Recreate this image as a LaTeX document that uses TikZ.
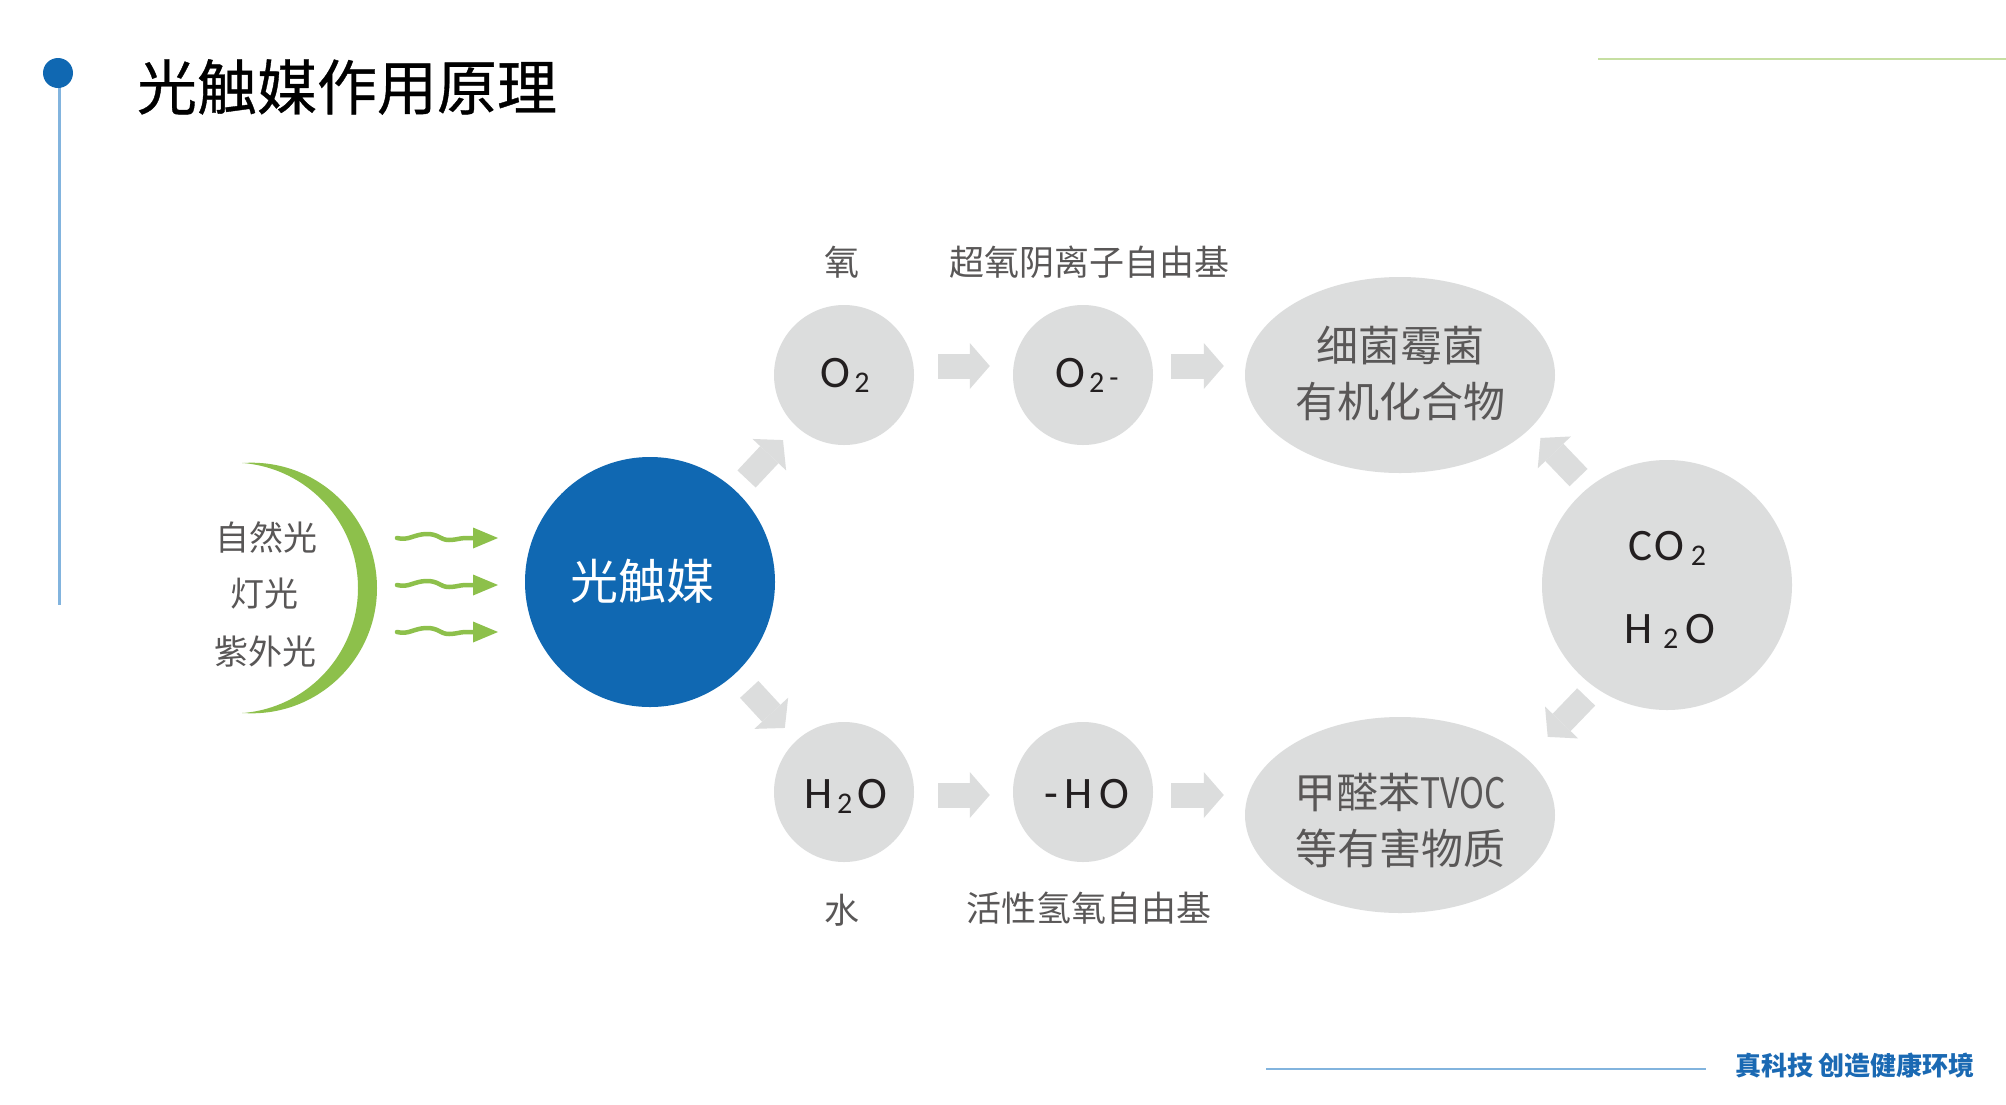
\documentclass[tikz,border=0pt]{standalone}
\usepackage{fontspec}
\usepackage{graphicx}
\setmainfont{Noto Sans CJK SC}
\newfontfamily\latinf{Carlito}
\newfontfamily\titlef{Noto Sans CJK SC}[FakeBold=0.6]
\usetikzlibrary{shapes.geometric,arrows.meta,calc}
\definecolor{cblue}{HTML}{1068B2}
\definecolor{cltblue}{HTML}{82B4DE}
\definecolor{cgreen}{HTML}{8DC04B}
\definecolor{cltgreen}{HTML}{C6DFA2}
\definecolor{cgray}{HTML}{DCDDDD}
\definecolor{cgtext}{HTML}{595757}
\definecolor{cdark}{HTML}{231F20}
\definecolor{cfoot}{HTML}{1A69B3}
\newcommand\myfs[2]{\fontsize{#1}{#2}\selectfont}
\newcommand\mysub[1]{\raisebox{-5pt}{\myfs{30}{30}#1}}
\tikzset{
  gcirc/.style={circle, fill=cgray, minimum size=140pt, inner sep=0pt},
  gell/.style={ellipse, fill=cgray, minimum width=310pt, minimum height=196pt, inner sep=0pt},
  formula/.style={anchor=base, text=cdark, inner sep=0pt, font=\latinf\myfs{45}{45}},
  lbl/.style={text=cgtext, inner sep=0pt, font=\myfs{35}{40}},
  biglbl/.style={text=cgtext, inner sep=0pt, align=center, font=\myfs{42}{56}},
  leftlbl/.style={text=cgtext, inner sep=0pt, font=\myfs{34}{40}},
  blockarr/.style={line width=25pt, draw=cgray, -{Triangle[length=20pt,width=46pt,line width=0pt]}},
  wave/.style={draw=cgreen, line width=4.5pt, line cap=round, -{Triangle[length=25pt,width=21pt,line width=0pt]}}
}
\begin{document}
\begin{tikzpicture}[x=1pt,y=-1pt]
\useasboundingbox (0,0) rectangle (2006,1104);
\fill[white] (0,0) rectangle (2006,1104);

% header decorations
\draw[cltblue, line width=2.5pt] (59.5,73) -- (59.5,605);
\fill[cblue] (58,73) circle[radius=15pt];
\draw[cltgreen, line width=2.5pt] (1598,59) -- (2006,59);
\node[inner sep=0pt, text=black, font=\titlef\myfs{60}{70}] (title) at (347,87) {光触媒作用原理};

% footer
\draw[cltblue, line width=2pt] (1266,1069) -- (1706,1069);
\node[inner sep=0pt, text=cfoot, font=\myfs{26}{30}\bfseries] (footer) at (1855,1066) {真科技 创造健康环境};

% light source crescent
\begin{scope}
  \clip (242,440) rectangle (400,740);
  \fill[cgreen, even odd rule] (251.7,588) circle[radius=125.3pt] (232.6,588) circle[radius=125.4pt];
\end{scope}
\node[leftlbl] (l1) at (266,537) {自然光};
\node[leftlbl] (l2) at (264,594) {灯光};
\node[leftlbl] (l3) at (265,652) {紫外光};

% wavy light arrows
\foreach \y/\n in {538/a,585/b,632/c} {
  \coordinate (w\n) at (397,\y);
  \draw[wave] (w\n) .. controls (409,\y+3) and (414,\y-4) .. (427,\y-4)
     .. controls (439,\y-4) and (440,\y+2) .. (449,\y+2)
     .. controls (456,\y+2) and (460,\y) .. (466,\y) -- (498,\y);
}

% photocatalyst
\node[circle, fill=cblue, minimum size=250pt, inner sep=0pt] (cat) at (650,582) {};
\node[text=white, inner sep=0pt, font=\myfs{48}{58}] (catlbl) at (642,581) {光触媒};

% gray nodes
\node[gcirc] (o2) at (844,375) {};
\node[gcirc] (o2m) at (1083,375) {};
\node[gcirc] (h2o) at (844,792) {};
\node[gcirc] (ho) at (1083,792) {};
\node[gell] (bact) at (1400,375) {};
\node[gell] (tox) at (1400,815) {};
\node[circle, fill=cgray, minimum size=250pt, inner sep=0pt] (co2) at (1667,585) {};

% formulas
\node[formula] (fo2) at (845,387) {O\kern4pt\mysub{2}};
\node[formula] (fo2m) at (1087,387) {O\kern4pt\mysub{2}\kern5pt\raisebox{0pt}{\myfs{30}{30}-}};
\node[formula] (fh2o) at (846,808) {H\kern4pt\mysub{2}\kern5pt O};
\node[formula] (fho) at (1087,808) {-\kern6pt H\kern7pt O};
\node[formula] (fco2) at (1667,560) {C\kern3pt O\kern6pt\mysub{2}};
\node[formula] (fh2o2) at (1670,643) {H\kern10pt\mysub{2}\kern7pt O};

% labels
\node[lbl] (lo2) at (842,262) {氧};
\node[lbl] (lo2m) at (1089,262) {超氧阴离子自由基};
\node[lbl] (lh2o) at (842,910) {水};
\node[lbl] (lho) at (1089,908) {活性氢氧自由基};
\node[biglbl] (tbact) at (1400,373) {细菌霉菌\\有机化合物};
\node[biglbl] (ttox) at (1400,821) {甲醛苯\scalebox{0.8}[1]{TVOC}\\等有害物质};

% block arrows
\draw[blockarr, shorten <=16pt, shorten >=19pt] (cat) -- (o2);
\draw[blockarr, shorten <=21pt, shorten >=17pt] (cat) -- (h2o);
\draw[blockarr, shorten <=24pt, shorten >=23pt] ($(o2.east)+(0,-9)$) -- ($(o2m.west)+(0,-9)$);
\draw[blockarr, shorten <=18pt, shorten >=21pt] ($(o2m.east)+(0,-9)$) -- ($(o2m.east -| bact.west)+(0,-9)$);
\draw[blockarr, shorten <=24pt, shorten >=23pt] ($(h2o.east)+(0,3)$) -- ($(ho.west)+(0,3)$);
\draw[blockarr, shorten <=18pt, shorten >=21pt] ($(ho.east)+(0,3)$) -- ($(ho.east -| tox.west)+(0,3)$);
\draw[blockarr, shorten <=14pt, shorten >=14pt] (co2.129) -- (bact.-22);
\draw[blockarr, shorten <=13pt, shorten >=30pt] (co2.-125) -- (tox.24);
\end{tikzpicture}
\end{document}
